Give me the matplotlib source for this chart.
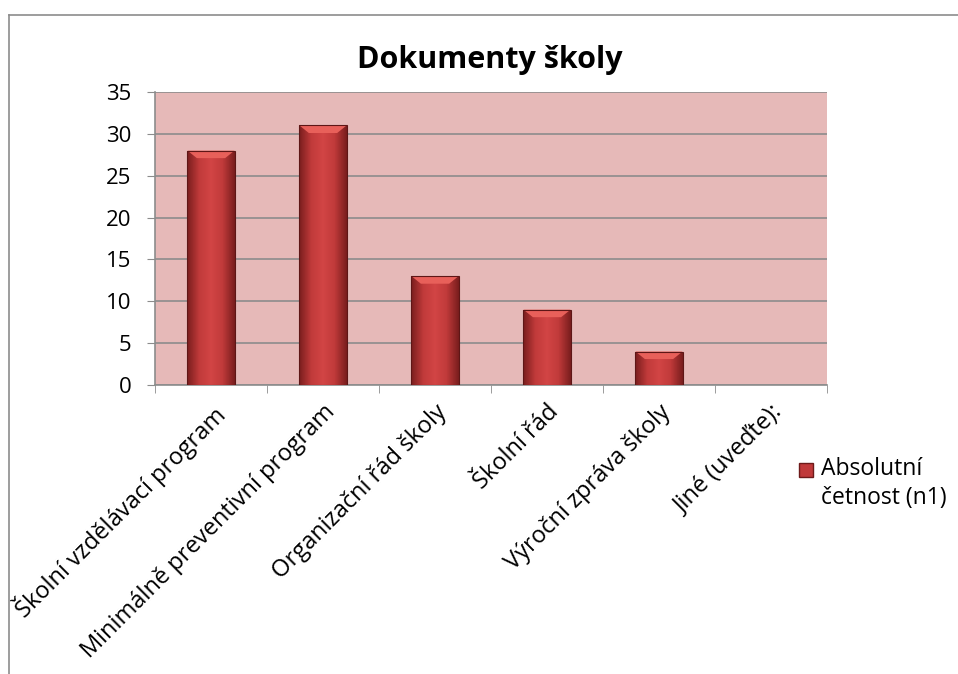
import matplotlib
matplotlib.use("Agg")
import matplotlib.pyplot as plt
import numpy as np
from matplotlib.patches import Rectangle, Polygon
from matplotlib.lines import Line2D
from matplotlib.colors import LinearSegmentedColormap

categories = ["Školní vzdělávací program", "Minimálně preventivní program",
              "Organizační řád školy", "Školní řád", "Výroční zpráva školy", "Jiné (uveďte):"]
values = [28, 31, 13, 9, 4, 0]
series_name = "Absolutní\nčetnost (n1)"
yticks = [0, 5, 10, 15, 20, 25, 30, 35]

plt.rcParams['font.family'] = ['Open Sans', 'DejaVu Sans']

fig = plt.figure(figsize=(9.58, 6.74), dpi=100)
ax = fig.add_axes([155/958, 1-385/674, 672/958, 293/674])
ax.set_facecolor('#E6B9B8')

x = np.arange(len(categories))
bars = ax.bar(x, values, width=0.42, color='#C0393A', edgecolor='none', zorder=3)

grad = np.linspace(0, 1, 64).reshape(1, -1)
cmap = LinearSegmentedColormap.from_list('b', ['#7A1E1E', '#C03A3A', '#D24545', '#C03A3A', '#7A1E1E'])
for b in bars:
    if b.get_height() <= 0:
        continue
    x0, w, h = b.get_x(), b.get_width(), b.get_height()
    im = ax.imshow(grad, extent=[x0, x0 + w, 0, h], aspect='auto', cmap=cmap, zorder=3.5)
    im.set_clip_path(b)
    inset = w * 0.2
    ax.add_patch(Polygon([(x0, h), (x0 + w, h), (x0 + w - inset, h - 0.9), (x0 + inset, h - 0.9)],
                         closed=True, facecolor='#E8605A', edgecolor='none', zorder=3.6))
    ax.add_patch(Rectangle((x0, 0), w, h, facecolor='none', edgecolor='#5E1616', linewidth=0.8, zorder=3.7))

ax.set_xlim(-0.5, len(categories) - 0.5)
ax.set_ylim(0, 35)
ax.set_yticks(yticks)
ax.yaxis.grid(True, color='#8C8C8C', linewidth=1.2, zorder=1)
ax.set_axisbelow(True)

ax.set_xticks(x)
ax.set_xticks(np.arange(len(categories) + 1) - 0.5, minor=True)
ax.tick_params(axis='x', which='major', length=0, pad=11)
ax.tick_params(axis='x', which='minor', length=6, color='#8C8C8C', direction='out')
ax.tick_params(axis='y', length=6, color='#8C8C8C', labelsize=16, pad=11)
ax.set_xticklabels(categories, rotation=45, ha='right', rotation_mode='anchor', fontsize=17)

for side in ['top', 'right']:
    ax.spines[side].set_visible(False)
for side in ['left', 'bottom']:
    ax.spines[side].set_color('#8C8C8C')
    ax.spines[side].set_linewidth(1.2)

fig.text(490/958, 1-60/674, "Dokumenty školy", ha='center', va='center',
         fontsize=22, fontweight='bold')

# legend
fig.patches.append(Rectangle((799/958, 1-477/674), 14/958, 14/674, transform=fig.transFigure,
                             facecolor='#C0393A', edgecolor='#6E1A1A', linewidth=1))
fig.text(821/958, 1-457/674, series_name, ha='left', va='top', fontsize=16.5, linespacing=1.3)

# chart frame
fig.add_artist(Line2D([9/958, 9/958], [0, 1-15/674], transform=fig.transFigure, color='#8C8C8C', lw=1.2))
fig.add_artist(Line2D([9/958, 1], [1-15/674, 1-15/674], transform=fig.transFigure, color='#8C8C8C', lw=1.2))

fig.savefig('out.png', dpi=100)
